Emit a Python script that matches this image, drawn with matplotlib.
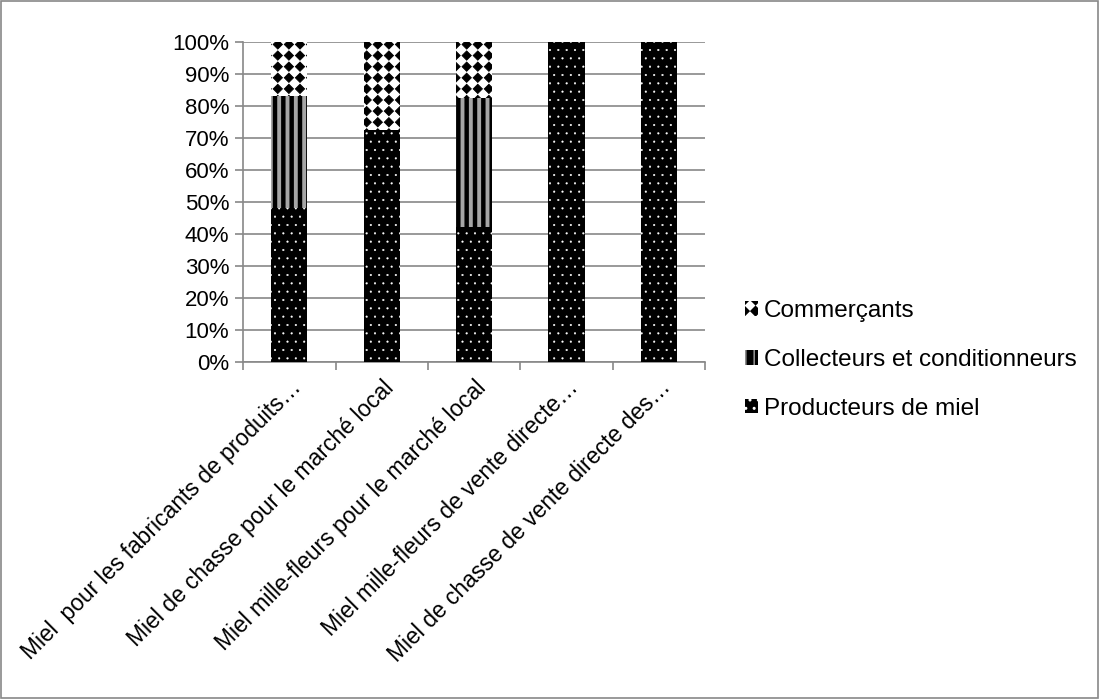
import numpy as np
import matplotlib
matplotlib.use("Agg")
import matplotlib.pyplot as plt
import matplotlib.hatch as mhatch
from matplotlib.path import Path
from matplotlib.patches import Rectangle

plt.rcParams['font.family'] = ['Liberation Sans', 'DejaVu Sans']


# Excel-like "solid diamond" fill, used in place of the '*' hatch
class Diamonds(mhatch.HatchPatternBase):
    def __init__(self, hatch, density):
        self.num_rows = hatch.count('*') * 9
        n = self.num_rows + 1
        self.num_vertices = n * n * 5 if self.num_rows else 0

    def set_vertices_and_codes(self, vertices, codes):
        step = 1.0 / self.num_rows
        r = 0.42 * step
        shape = np.array([[0, r], [r, 0], [0, -r], [-r, 0], [0, r]])
        scodes = [Path.MOVETO, Path.LINETO, Path.LINETO, Path.LINETO, Path.CLOSEPOLY]
        i = 0
        for row in range(self.num_rows + 1):
            for col in range(self.num_rows + 1):
                vertices[i:i + 5] = shape + [col * step, row * step]
                codes[i:i + 5] = scodes
                i += 5


mhatch._hatch_types = [h for h in mhatch._hatch_types if h is not mhatch.Stars] + [Diamonds]

categories = ["Miel  pour les fabricants de produits…",
              "Miel de chasse pour le marché local",
              "Miel mille-fleurs pour le marché local",
              "Miel mille-fleurs de vente directe…",
              "Miel de chasse de vente directe des…"]
producteurs = [48, 72.5, 42.2, 100, 100]
collecteurs = [35, 0, 40.3, 0, 0]
commercants = [17, 27.5, 17.5, 0, 0]
yticks = [0, 10, 20, 30, 40, 50, 60, 70, 80, 90, 100]

grid_col = "#888888"

fig = plt.figure(figsize=(11, 6.99), dpi=100)
ax = fig.add_axes([0.221, 0.482, 0.42, 0.458])

x = np.arange(len(categories))
w = 0.39

b1 = ax.bar(x, producteurs, w, color="black", edgecolor="white", linewidth=0,
            hatch="..", label="Producteurs de miel", zorder=3)
b2 = ax.bar(x, collecteurs, w, bottom=producteurs, color="black",
            edgecolor="#a6a6a6", linewidth=0, hatch="||",
            label="Collecteurs et conditionneurs", zorder=3)
bottom2 = np.array(producteurs) + np.array(collecteurs)
b3 = ax.bar(x, commercants, w, bottom=bottom2, color="white", edgecolor="black",
            linewidth=0, hatch="*", label="Commerçants", zorder=3)
for p in b1:
    p.set_hatch_linewidth(0.3)
for p in b2:
    p.set_hatch_linewidth(2.8)
for p in b3:
    p.set_hatch_linewidth(0.6)

ax.set_ylim(0, 100)
ax.set_xlim(-0.5, len(categories) - 0.5)
ax.set_yticks(yticks)
ax.set_yticklabels([f"{v}%" for v in yticks], fontsize=16)
ax.yaxis.grid(True, color=grid_col, linewidth=1.2, zorder=0)
ax.set_axisbelow(True)

ax.set_xticks(x)
ax.set_xticklabels(categories, rotation=45, ha="right", rotation_mode="anchor", fontsize=16.5)
ax.set_xticks(np.arange(-0.5, len(categories)), minor=True)
ax.tick_params(axis="x", which="major", length=0, pad=10)
ax.tick_params(axis="x", which="minor", length=6, color=grid_col, width=1.2)
ax.tick_params(axis="y", length=6, color=grid_col, width=1.2, pad=4)

for s in ["top", "right"]:
    ax.spines[s].set_visible(False)
for s in ["left", "bottom"]:
    ax.spines[s].set_color(grid_col)
    ax.spines[s].set_linewidth(1.2)

handles = [b3, b2, b1]
leg = ax.legend(handles, [h.get_label() for h in handles], loc="center left",
                bbox_to_anchor=(0.657, 0.485), bbox_transform=fig.transFigure,
                frameon=False, fontsize=17.5, handlelength=0.55, handleheight=0.55,
                handletextpad=0.25, labelspacing=1.1)

fig.patches.append(Rectangle((0.001, 0.001), 0.997, 0.997, transform=fig.transFigure,
                             fill=False, edgecolor="#888888", linewidth=1.2))

fig.savefig("out.png", dpi=100)
